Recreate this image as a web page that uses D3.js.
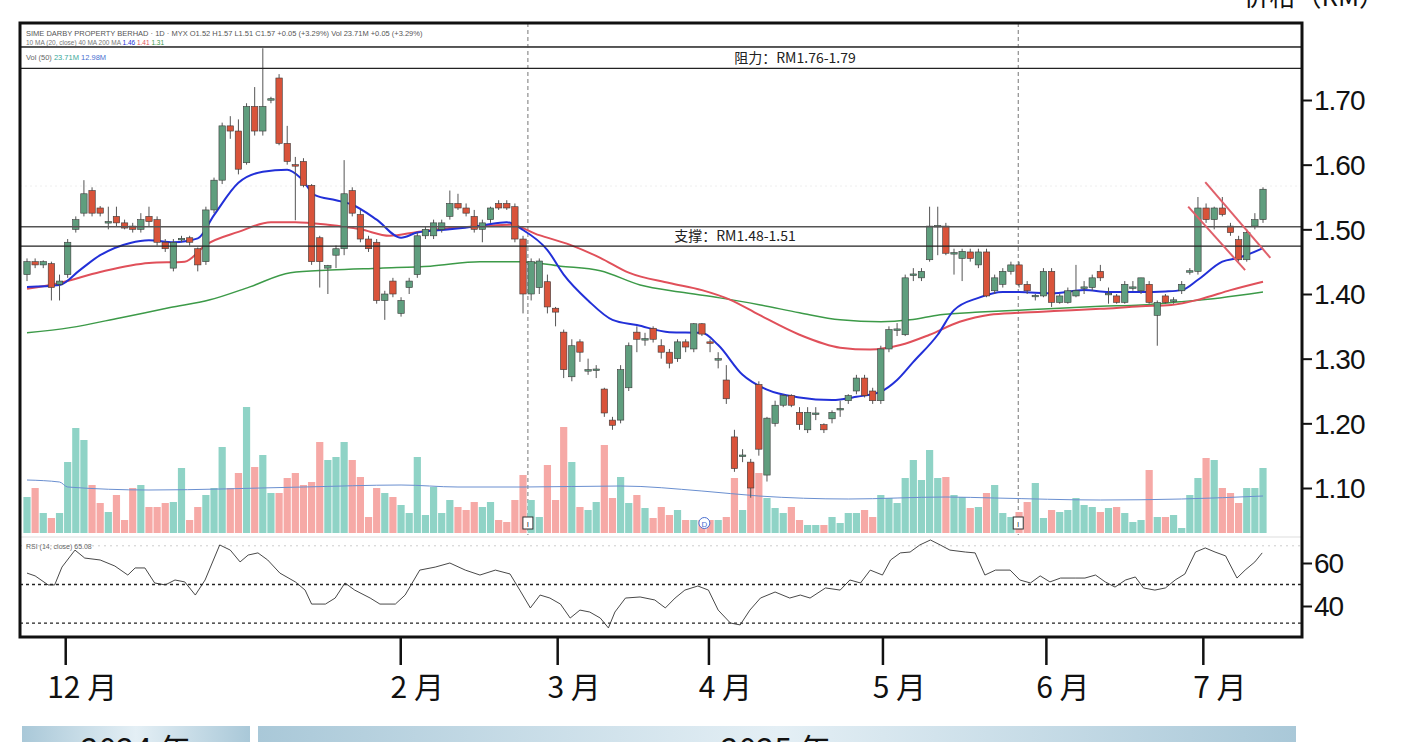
<!DOCTYPE html>
<html><head><meta charset="utf-8">
<script src="https://cdn.jsdelivr.net/npm/d3@7"></script>
<style>body{margin:0;background:#fff}svg{display:block}</style></head>
<body><svg id="c" width="1412" height="742"></svg>
<script>
// [open, high, low, close] per trading day
const candles = [
[1.43,1.455,1.42,1.45],[1.45,1.455,1.44,1.445],[1.445,1.452,1.44,1.45],[1.447,1.45,1.39,1.41],[1.415,1.43,1.39,1.42],
[1.43,1.485,1.425,1.48],[1.50,1.52,1.495,1.515],[1.525,1.576,1.52,1.555],[1.56,1.565,1.52,1.525],[1.533,1.536,1.52,1.525],
[1.51,1.535,1.50,1.512],[1.52,1.535,1.505,1.51],[1.51,1.515,1.50,1.502],[1.505,1.51,1.495,1.50],[1.50,1.525,1.495,1.515],
[1.52,1.535,1.505,1.512],[1.515,1.52,1.475,1.48],[1.48,1.485,1.465,1.47],[1.44,1.485,1.435,1.48],[1.485,1.49,1.48,1.486],
[1.487,1.49,1.475,1.48],[1.47,1.472,1.435,1.445],[1.45,1.535,1.445,1.53],[1.53,1.58,1.525,1.576],[1.576,1.665,1.57,1.66],
[1.66,1.675,1.64,1.652],[1.652,1.67,1.585,1.593],[1.603,1.695,1.60,1.69],[1.69,1.72,1.645,1.652],[1.652,1.78,1.645,1.69],
[1.70,1.705,1.695,1.702],[1.734,1.74,1.63,1.633],[1.633,1.66,1.60,1.605],[1.60,1.612,1.514,1.598],[1.605,1.61,1.565,1.568],
[1.568,1.57,1.445,1.45],[1.487,1.49,1.41,1.45],[1.44,1.445,1.40,1.444],[1.46,1.475,1.44,1.47],[1.47,1.607,1.46,1.555],
[1.56,1.565,1.52,1.525],[1.523,1.53,1.48,1.485],[1.485,1.49,1.465,1.47],[1.48,1.485,1.385,1.39],[1.39,1.405,1.36,1.40],
[1.42,1.425,1.395,1.40],[1.37,1.395,1.365,1.39],[1.41,1.425,1.40,1.42],[1.43,1.495,1.425,1.49],[1.49,1.505,1.485,1.50],
[1.49,1.515,1.485,1.51],[1.50,1.515,1.495,1.51],[1.52,1.56,1.515,1.54],[1.54,1.555,1.53,1.533],[1.533,1.54,1.52,1.525],
[1.52,1.53,1.495,1.50],[1.50,1.515,1.48,1.51],[1.515,1.535,1.51,1.533],[1.54,1.545,1.53,1.533],[1.54,1.545,1.53,1.533],
[1.535,1.54,1.48,1.485],[1.485,1.49,1.37,1.40],[1.40,1.455,1.39,1.45],[1.41,1.455,1.40,1.451],[1.419,1.43,1.37,1.38],
[1.378,1.38,1.35,1.372],[1.341,1.345,1.27,1.283],[1.272,1.33,1.265,1.32],[1.326,1.33,1.295,1.31],[1.283,1.30,1.275,1.283],
[1.283,1.29,1.27,1.284],[1.253,1.255,1.21,1.216],[1.205,1.21,1.19,1.197],[1.205,1.29,1.20,1.283],[1.255,1.325,1.25,1.32],
[1.341,1.35,1.31,1.33],[1.33,1.34,1.32,1.331],[1.347,1.35,1.325,1.33],[1.32,1.33,1.30,1.31],[1.31,1.315,1.285,1.293],
[1.30,1.33,1.295,1.326],[1.326,1.33,1.31,1.318],[1.315,1.355,1.31,1.354],[1.354,1.355,1.335,1.338],[1.326,1.33,1.31,1.325],
[1.30,1.31,1.285,1.30],[1.267,1.29,1.23,1.238],[1.179,1.19,1.125,1.13],[1.15,1.16,1.14,1.151],[1.14,1.145,1.085,1.10],
[1.26,1.265,1.15,1.16],[1.12,1.21,1.11,1.208],[1.20,1.235,1.195,1.228],[1.228,1.245,1.225,1.243],[1.243,1.245,1.225,1.228],
[1.217,1.225,1.19,1.198],[1.19,1.225,1.185,1.217],[1.215,1.225,1.205,1.216],[1.198,1.20,1.185,1.19],[1.207,1.22,1.20,1.217],
[1.222,1.235,1.21,1.223],[1.235,1.245,1.23,1.243],[1.25,1.275,1.245,1.27],[1.27,1.275,1.24,1.243],[1.25,1.255,1.23,1.235],
[1.235,1.32,1.23,1.315],[1.315,1.35,1.31,1.345],[1.345,1.355,1.335,1.346],[1.337,1.43,1.335,1.425],[1.43,1.44,1.42,1.431],
[1.425,1.44,1.42,1.435],[1.453,1.535,1.45,1.505],[1.505,1.535,1.46,1.506],[1.505,1.51,1.46,1.463],[1.463,1.47,1.43,1.464],
[1.455,1.47,1.42,1.466],[1.465,1.47,1.45,1.455],[1.445,1.47,1.44,1.465],[1.465,1.47,1.395,1.397],[1.405,1.43,1.40,1.425],
[1.415,1.44,1.41,1.435],[1.435,1.45,1.43,1.445],[1.445,1.45,1.41,1.415],[1.415,1.42,1.40,1.405],[1.397,1.40,1.39,1.398],
[1.397,1.44,1.395,1.435],[1.435,1.44,1.38,1.387],[1.387,1.40,1.385,1.397],[1.387,1.41,1.385,1.405],[1.397,1.445,1.395,1.405],
[1.41,1.42,1.40,1.411],[1.41,1.43,1.405,1.425],[1.435,1.445,1.42,1.425],[1.40,1.41,1.385,1.401],[1.397,1.40,1.385,1.387],
[1.387,1.42,1.385,1.415],[1.41,1.42,1.405,1.411],[1.405,1.425,1.40,1.425],[1.415,1.42,1.385,1.387],[1.367,1.39,1.32,1.387],
[1.397,1.40,1.385,1.387],[1.39,1.395,1.385,1.391],[1.405,1.42,1.40,1.415],[1.435,1.44,1.43,1.436],[1.435,1.55,1.43,1.533],
[1.533,1.54,1.51,1.515],[1.515,1.535,1.50,1.533],[1.533,1.55,1.52,1.523],[1.505,1.51,1.49,1.495],[1.484,1.49,1.45,1.453],
[1.453,1.50,1.45,1.495],[1.505,1.525,1.50,1.515],[1.515,1.565,1.51,1.562]
];
const volumes = [36,45,20,15,20,71,105,93,48,30,21,38,13,45,48,26,26,30,31,65,13,26,38,45,86,45,60,126,66,78,
40,40,55,60,48,51,91,73,76,91,73,56,16,45,40,36,28,20,76,18,46,20,33,26,23,31,26,31,13,11,33,58,33,
16,68,33,106,71,26,23,31,88,35,56,30,38,25,15,26,18,23,13,13,13,13,13,16,55,23,70,60,35,25,20,26,13,8,8,8,16,10,20,20,23,16,38,35,30,55,73,53,83,
55,56,38,36,25,26,40,48,20,16,21,31,50,15,23,21,23,35,28,26,21,25,26,20,11,13,63,16,16,18,5,38,55,75,73,45,40,30,45,45,65];
const volMA = [[0,53],[4,51],[5,46],[15,43],[34,46],[46,48],[53,46],[61,46],[73,47],[83,42],[90,37],[101,34],[113,36],[119,35],[132,33],[142,34],[152,37]];
const maBlue = [[0,1.411],[4,1.414],[6.5,1.437],[9,1.46],[12.7,1.479],[15,1.483],[18,1.48],[21,1.486],[23,1.522],[26,1.572],[29,1.589],[32,1.592],[33.6,1.58],[35.4,1.553],[38,1.545],[40,1.538],[43,1.515],[46,1.487],[48,1.495],[52,1.50],[56,1.506],[59,1.511],[61,1.499],[64,1.468],[66,1.43],[69,1.39],[72,1.36],[75,1.352],[79,1.341],[83,1.34],[85,1.321],[88,1.275],[91,1.252],[95,1.24],[99,1.236],[102,1.241],[105,1.249],[107,1.267],[109,1.295],[112,1.337],[114,1.375],[117,1.394],[120,1.403],[122,1.403],[126,1.401],[130,1.406],[133,1.403],[137,1.403],[140,1.404],[142,1.406],[144,1.422],[147,1.45],[149,1.456],[152,1.471]];
const maRed = [[0,1.408],[4,1.417],[9,1.434],[15,1.448],[19.4,1.45],[22,1.476],[26,1.496],[30,1.511],[33,1.511],[37,1.507],[41,1.50],[44.6,1.49],[48,1.496],[52,1.502],[56,1.505],[59.4,1.507],[63,1.491],[66.8,1.476],[70.5,1.456],[74,1.433],[79,1.417],[83,1.406],[86.5,1.391],[90,1.368],[95,1.337],[100,1.317],[103.7,1.314],[107.4,1.321],[111,1.337],[114.7,1.357],[118.4,1.368],[122,1.371],[127,1.374],[132,1.377],[137,1.381],[140.7,1.383],[144.3,1.392],[148,1.406],[152,1.419]];
const maGreen = [[0,1.34],[5.3,1.348],[11.4,1.363],[17.6,1.379],[22.5,1.391],[27.4,1.411],[32.4,1.433],[37.3,1.437],[43.4,1.44],[49.6,1.443],[55.7,1.45],[60.6,1.45],[65.6,1.443],[70.5,1.436],[75.4,1.414],[80.3,1.403],[85.2,1.394],[90.2,1.383],[95,1.371],[100,1.36],[105,1.357],[108.6,1.36],[112.3,1.368],[117.2,1.372],[122,1.375],[127,1.378],[132,1.381],[137,1.383],[141.8,1.388],[146.7,1.394],[152,1.403]];
const rsi = [[0,55.3],[1,54],[2.6,49.8],[3.4,49.8],[4.3,58.1],[5.9,66],[7.1,62.3],[9,61.4],[10.8,58.6],[12.4,54.4],[13.3,57.7],[14.5,57.7],[15.7,50.7],[17,49.8],[18.2,52.1],[19.4,51.2],[20.7,45.1],[21.9,52.1],[23.7,68.4],[25,66],[26.2,60.5],[27.2,63.7],[28.4,64.7],[29.6,61.4],[31.1,55.3],[33,51.2],[34.2,47.4],[35,40.9],[36.7,40.9],[37.9,43.7],[39.1,50.7],[40.3,47.4],[42.2,43.7],[43.4,40.9],[45.3,40.9],[46.5,45.1],[48.3,56.7],[50.2,58.1],[52,60],[53.9,56.7],[55.7,54.4],[57.6,56.7],[59.4,54.9],[60.6,47.4],[61.9,39.1],[63.1,45.1],[64.3,43.7],[65.6,40.9],[66.8,34.4],[68,38.1],[69.2,37.2],[70.5,34.4],[71.5,29.8],[72.3,37.2],[73.6,43.7],[75.4,44.2],[77.2,42.8],[78.5,39.1],[79.7,43.7],[80.9,47.4],[82.5,49.3],[83.8,47.4],[85,38.1],[86.5,32.1],[87.7,31.2],[88.9,38.1],[90.2,43.7],[92,46.5],[93.8,43.7],[95.1,45.1],[96.3,43.7],[98.2,48.4],[100,47.4],[101.2,52.1],[102.5,50.7],[103.7,56.7],[105.2,54.4],[106.2,61.4],[107.4,64.7],[108.6,65.1],[109.8,68.4],[111.1,70.7],[112.3,68.4],[113.5,66],[115.4,65.1],[116.6,64.7],[117.8,54.4],[119.1,56.7],[120.9,56.7],[122.1,52.1],[123.4,50.7],[124.6,54],[125.8,51.2],[127.1,53],[128.9,53],[130.1,53],[131.4,54.4],[132.6,51.2],[133.8,48.8],[135.1,52.1],[136.3,53.5],[137.3,48.4],[138.7,47.4],[140,48.4],[141.2,52.1],[142.4,54.9],[143.7,65.1],[144.9,67],[146.1,65.1],[147.4,63.3],[148.8,53],[149.8,56.7],[151,60.5],[151.9,64.7]];
const priceTicks = [1.70,1.60,1.50,1.40,1.30,1.20,1.10];
const rsiTicks = [60,40];
const monthLabels = ["12 月","2 月","3 月","4 月","5 月","6 月","7 月"];
const monthIdx = [4.7,45.9,65.2,83.8,105.2,125.3,144.6];
const periodBreaks = [61.6,121.9];
const resistance = [1.782,1.749];
const support = [1.504,1.474];
const channel = [[[144.9,1.573],[152.9,1.456]],[[142.8,1.535],[149.8,1.437]]];

const svg = d3.select("#c");
const L=20,R=1302,T=23,B=637;
const x = d3.scaleLinear().domain([0,152]).range([27,1263]);
const y = d3.scaleLinear().domain([1.10,1.70]).range([488,100]);
const yv = d3.scaleLinear().domain([0,126]).range([533,407]);
const yr = d3.scaleLinear().domain([40,60]).range([606,563]);
const font = "'Liberation Sans', Arial, sans-serif";
const cjk = "'Noto Sans CJK SC', 'Liberation Sans', sans-serif";

// guide lines
svg.append("line").attr("x1",L).attr("x2",R).attr("y1",y(1.567)).attr("y2",y(1.567)).attr("stroke","#eee").attr("stroke-dasharray","2,3");
periodBreaks.forEach(p=>svg.append("line").attr("x1",x(p)).attr("x2",x(p)).attr("y1",T).attr("y2",535).attr("stroke","#777").attr("stroke-dasharray","4,3").attr("stroke-width",1));

// volume
svg.append("g").selectAll("rect").data(volumes).join("rect")
 .attr("x",(d,i)=>x(i)-3.6).attr("width",7.2).attr("y",d=>yv(d)).attr("height",d=>yv(0)-yv(d))
 .attr("fill",(d,i)=>candles[i][3]>=candles[i][0]?"#8fd3c6":"#f6a9a6");
const line = d3.line().curve(d3.curveMonotoneX);
svg.append("path").attr("d",d3.line().x(d=>x(d[0])).y(d=>yv(d[1])).curve(d3.curveMonotoneX)(volMA)).attr("fill","none").attr("stroke","#6a8fd0").attr("stroke-width",1);
// markers
[[61.6,"I","rect"],[83.3,"D","circle"],[121.9,"I","rect"]].forEach(m=>{
  const cx=x(m[0]);
  if(m[2]==="rect") svg.append("rect").attr("x",cx-5).attr("y",517).attr("width",10).attr("height",12).attr("fill","#fff").attr("stroke","#333");
  else svg.append("circle").attr("cx",cx).attr("cy",523).attr("r",5.5).attr("fill","#fff").attr("stroke","#4a6fd0");
  svg.append("text").attr("x",cx).attr("y",526.5).attr("text-anchor","middle").attr("font-size",8).attr("font-family",font).attr("fill",m[2]==="rect"?"#333":"#4a6fd0").text(m[1]);
});

// MAs
const mk = (arr,col,w)=>svg.append("path").attr("d",d3.line().x(d=>x(d[0])).y(d=>y(d[1])).curve(d3.curveMonotoneX)(arr)).attr("fill","none").attr("stroke",col).attr("stroke-width",w);
mk(maGreen,"#3c9a48",1.5);
mk(maRed,"#e0505a",2);
mk(maBlue,"#2230d8",2);

// candles
const cg = svg.append("g");
candles.forEach((c,i)=>{
  const [o,h,l,cl]=c, up=cl>=o, cx=x(i);
  cg.append("line").attr("x1",cx).attr("x2",cx).attr("y1",y(h)).attr("y2",y(l)).attr("stroke","#555").attr("stroke-width",1);
  const top=y(Math.max(o,cl)), bot=y(Math.min(o,cl));
  cg.append("rect").attr("x",cx-3.2).attr("width",6.4).attr("y",top).attr("height",Math.max(1.5,bot-top))
    .attr("fill",up?"#5f9e7e":"#d9533a").attr("stroke","#3a3a3a").attr("stroke-width",0.6);
});

// support / resistance
resistance.concat(support).forEach((v,i)=>svg.append("line").attr("x1",L).attr("x2",R).attr("y1",y(v)).attr("y2",y(v)).attr("stroke",i%2?"#222":"#555").attr("stroke-width",1.3));
svg.append("text").attr("x",795).attr("y",y(1.7655)+5).attr("text-anchor","middle").attr("font-size",14).attr("font-family",cjk).attr("fill","#222").text("阻力：RM1.76-1.79");
svg.append("text").attr("x",735).attr("y",y(1.489)+5).attr("text-anchor","middle").attr("font-size",14).attr("font-family",cjk).attr("fill","#222").text("支撑：RM1.48-1.51");
// channel
channel.forEach(s=>svg.append("line").attr("x1",x(s[0][0])).attr("y1",y(s[0][1])).attr("x2",x(s[1][0])).attr("y2",y(s[1][1])).attr("stroke","#e0606a").attr("stroke-width",2));

// RSI pane
svg.append("line").attr("x1",L).attr("x2",R).attr("y1",537).attr("y2",537).attr("stroke","#ddd");
[68,50,32].forEach((v,i)=>svg.append("line").attr("x1",L).attr("x2",R).attr("y1",yr(v)).attr("y2",yr(v)).attr("stroke",i?"#222":"#ccc").attr("stroke-width",i?1.3:1).attr("stroke-dasharray",i?"3,3":"2,4"));
svg.append("path").attr("d",d3.line().x(d=>x(d[0])).y(d=>yr(d[1]))(rsi)).attr("fill","none").attr("stroke","#333").attr("stroke-width",0.9);
svg.append("text").attr("x",26).attr("y",549).attr("font-size",7).attr("font-family",font).attr("fill","#666").text("RSI (14, close)  65.08");

// header texts
svg.append("text").attr("x",26).attr("y",36).attr("font-size",7.5).attr("font-family",font).attr("fill","#555").text("SIME DARBY PROPERTY BERHAD · 1D · MYX  O1.52  H1.57  L1.51  C1.57  +0.05 (+3.29%)  Vol 23.71M  +0.05 (+3.29%)");
const h2=svg.append("text").attr("x",26).attr("y",45).attr("font-size",6.5).attr("font-family",font).attr("fill","#777");
h2.append("tspan").text("10 MA (20, close)  40 MA  200 MA  ");
h2.append("tspan").attr("fill","#2230d8").text("1.46 ");h2.append("tspan").attr("fill","#e0505a").text("1.41 ");h2.append("tspan").attr("fill","#3c9a48").text("1.31");
const h3=svg.append("text").attr("x",26).attr("y",60).attr("font-size",7.5).attr("font-family",font).attr("fill","#666");
h3.append("tspan").text("Vol (50)  ");h3.append("tspan").attr("fill","#3aa89a").text("23.71M  ");h3.append("tspan").attr("fill","#4a6fd0").text("12.98M");
svg.append("line").attr("x1",L).attr("x2",R).attr("y1",47).attr("y2",47).attr("stroke","#444").attr("stroke-width",1.3);

// frame
svg.append("rect").attr("x",L).attr("y",T).attr("width",R-L).attr("height",B-T).attr("fill","none").attr("stroke","#111").attr("stroke-width",3);

// right axes
const ax = svg.append("g").attr("transform",`translate(${R},0)`)
  .call(d3.axisRight(y).tickValues(priceTicks).tickSize(10).tickPadding(2).tickFormat(d3.format(".2f")));
const ax2 = svg.append("g").attr("transform",`translate(${R},0)`)
  .call(d3.axisRight(yr).tickValues(rsiTicks).tickSize(10).tickPadding(2));
[ax,ax2].forEach(a=>{a.select(".domain").remove();a.selectAll("line").attr("stroke","#111").attr("stroke-width",2);
  a.selectAll("text").attr("font-size",28).attr("font-family",font).attr("fill","#111").attr("dy","0.35em").attr("letter-spacing",-1);});
svg.append("text").attr("x",1385).attr("y",6).attr("text-anchor","end").attr("font-size",26).attr("font-family",cjk).attr("fill","#111").text("价格（RM）");

// bottom month axis
const bx = svg.append("g").attr("transform",`translate(0,${B})`)
  .call(d3.axisBottom(x).tickValues(monthIdx).tickSize(28).tickPadding(12).tickFormat((d,i)=>monthLabels[i]));
bx.select(".domain").remove();
bx.selectAll("line").attr("stroke","#111").attr("stroke-width",2.5);
bx.selectAll("text").attr("font-size",30).attr("font-family",cjk).attr("fill","#111").attr("dx","0.55em");

// year band
const grad = svg.append("defs").append("linearGradient").attr("id","g1");
grad.append("stop").attr("offset","0").attr("stop-color","#a9c8d8");
grad.append("stop").attr("offset","0.5").attr("stop-color","#e4eff5");
grad.append("stop").attr("offset","1").attr("stop-color","#a9c8d8");
svg.append("rect").attr("x",22).attr("y",726).attr("width",228).attr("height",20).attr("fill","url(#g1)");
svg.append("rect").attr("x",258).attr("y",726).attr("width",1038).attr("height",20).attr("fill","url(#g1)");
svg.append("text").attr("x",136).attr("y",762).attr("text-anchor","middle").attr("font-size",32).attr("font-family",cjk).attr("fill","#111").text("2024 年");
svg.append("text").attr("x",776).attr("y",762).attr("text-anchor","middle").attr("font-size",32).attr("font-family",cjk).attr("fill","#111").text("2025 年");
</script></body></html>
